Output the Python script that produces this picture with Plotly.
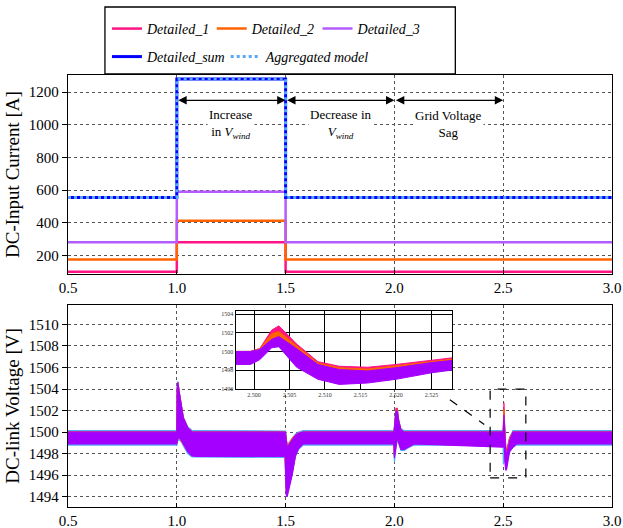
import plotly.graph_objects as go

# ---------------- data: DC input current (top) ----------------
T_I = [0.5, 1.0, 1.5, 3.0]
I_D1 = [100, 280, 100, 100]
I_D2 = [175, 412, 175, 175]
I_D3 = [280, 590, 280, 280]
I_SUM = [555, 1280, 555, 555]
I_AGG = [555, 1280, 555, 555]

# ---------------- data: DC-link voltage envelopes (bottom) ----------------
T_V = [0.5, 1.0, 1.002, 1.005, 1.01, 1.02, 1.03, 1.05, 1.07, 1.09,
       1.498, 1.5, 1.503, 1.507, 1.515, 1.53, 1.545, 1.56, 1.58,
       1.998, 2.0, 2.003, 2.008, 2.013, 2.02, 2.03, 2.045, 2.06, 2.09,
       2.4995, 2.5008, 2.5025, 2.5035, 2.506, 2.509, 2.512, 2.516, 2.52, 2.525, 2.53,
       2.545, 2.56, 3.0]

V_D3_HI = [1500.0, 1500.0, 1504.0, 1504.6, 1503.8, 1502.3, 1501.3, 1500.4, 1500.0, 1500.0,
           1500.0, 1499.8, 1499.0, 1498.6, 1498.8, 1499.3, 1499.7, 1499.9, 1500.0,
           1500.0, 1500.3, 1501.2, 1502.0, 1501.9, 1501.0, 1500.2, 1500.0, 1500.0, 1500.0,
           1500.0, 1500.2, 1501.3, 1501.6, 1500.3, 1498.6, 1498.05, 1497.9, 1498.25, 1498.8, 1499.2,
           1500.0, 1500.0, 1500.0]
V_D3_LO = [1498.9, 1498.9, 1499.2, 1499.4, 1499.5, 1499.3, 1498.9, 1498.2, 1497.8, 1497.75,
           1497.75, 1496.0, 1494.2, 1494.0, 1494.8, 1496.0, 1497.8, 1498.5, 1498.9,
           1498.9, 1497.6, 1497.8, 1498.8, 1499.5, 1499.0, 1498.4, 1498.4, 1498.6, 1498.9,
           1498.6, 1499.1, 1500.4, 1500.5, 1498.3, 1497.0, 1496.45, 1496.6, 1497.0, 1497.7, 1498.2,
           1498.6, 1498.9, 1498.9]

V_D2_HI = [1500.0, 1500.0, 1504.0, 1504.6, 1503.8, 1502.3, 1501.3, 1500.4, 1500.0, 1500.0,
           1500.0, 1499.8, 1499.1, 1498.7, 1498.9, 1499.4, 1499.7, 1499.9, 1500.0,
           1500.0, 1500.3, 1501.3, 1502.1, 1502.0, 1501.0, 1500.2, 1500.0, 1500.0, 1500.0,
           1500.0, 1500.3, 1501.9, 1502.15, 1500.6, 1498.75, 1498.25, 1498.1, 1498.45, 1498.95, 1499.35,
           1500.0, 1500.0, 1500.0]
V_D2_LO = [1499.0, 1499.0, 1499.3, 1499.5, 1499.5, 1499.3, 1498.9, 1498.3, 1497.9, 1497.8,
           1497.8, 1496.2, 1494.5, 1494.3, 1495.0, 1496.2, 1497.9, 1498.6, 1499.0,
           1499.0, 1497.8, 1498.0, 1498.9, 1499.5, 1499.1, 1498.5, 1498.5, 1498.7, 1499.0,
           1498.7, 1499.3, 1500.8, 1501.0, 1498.7, 1497.4, 1496.9, 1497.0, 1497.4, 1498.0, 1498.5,
           1498.7, 1499.0, 1499.0]

V_D1_HI = [1500.0, 1500.0, 1504.0, 1504.6, 1503.8, 1502.3, 1501.3, 1500.4, 1500.0, 1500.0,
           1500.0, 1499.8, 1499.1, 1498.7, 1498.9, 1499.4, 1499.7, 1499.9, 1500.0,
           1500.0, 1500.3, 1501.4, 1502.2, 1502.2, 1501.0, 1500.2, 1500.0, 1500.0, 1500.0,
           1500.0, 1500.3, 1502.3, 1502.75, 1500.8, 1498.9, 1498.4, 1498.3, 1498.6, 1499.1, 1499.5,
           1500.0, 1500.0, 1500.0]
V_D1_LO = [1499.0, 1499.0, 1499.3, 1499.5, 1499.5, 1499.3, 1498.9, 1498.3, 1497.9, 1497.8,
           1497.8, 1496.2, 1494.6, 1494.4, 1495.1, 1496.3, 1497.9, 1498.6, 1499.0,
           1499.0, 1497.9, 1498.1, 1499.0, 1499.6, 1499.1, 1498.6, 1498.6, 1498.7, 1499.0,
           1498.7, 1499.4, 1501.0, 1501.3, 1499.0, 1497.7, 1497.2, 1497.3, 1497.6, 1498.2, 1498.7,
           1498.8, 1499.0, 1499.0]

V_AGG_HI = [1500.15, 1500.15, 1504.5, 1504.7, 1503.9, 1502.4, 1501.4, 1500.5, 1500.15, 1500.15,
            1500.15, 1500.1, 1499.3, 1498.8, 1499.0, 1499.4, 1499.8, 1500.0, 1500.15,
            1500.15, 1500.4, 1501.3, 1502.2, 1502.1, 1501.1, 1500.3, 1500.15, 1500.15, 1500.15,
            1500.15, 1500.5, 1501.8, 1501.8, 1500.7, 1499.3, 1498.4, 1498.1, 1498.5, 1499.0, 1499.5,
            1500.15, 1500.15, 1500.15]
V_AGG_LO = [1498.8, 1498.8, 1499.0, 1499.2, 1499.3, 1499.1, 1498.7, 1498.0, 1497.7, 1497.65,
            1497.65, 1495.2, 1494.8, 1494.6, 1495.0, 1496.1, 1497.7, 1498.4, 1498.8,
            1498.8, 1497.2, 1497.3, 1498.6, 1499.3, 1498.9, 1498.3, 1498.3, 1498.5, 1498.8,
            1498.8, 1497.0, 1497.2, 1497.5, 1497.4, 1497.2, 1496.9, 1497.0, 1497.5, 1498.0, 1498.3,
            1498.6, 1498.8, 1498.8]

X_TICKS = [0.5, 1.0, 1.5, 2.0, 2.5, 3.0]
INSET_X_TICKS = [2.500, 2.505, 2.510, 2.515, 2.520, 2.525]
INSET_Y_TICKS = [1496, 1498, 1500, 1502, 1504]

NAMES = ["Detailed_1", "Detailed_2", "Detailed_3", "Detailed_sum", "Aggregated model"]
C_D1, C_D2, C_D3, C_SUM, C_AGG = "#FF1485", "#FF6400", "#A400FF", "#0000FF", "#55AAFF"

SERIF = "Liberation Serif, Times New Roman, serif"

fig = go.Figure()

# ---- top plot lines (each in its own one-item legend for exact placement) ----
top_series = [(I_D1, NAMES[0], dict(color=C_D1, width=2.5), "legend"),
              (I_D2, NAMES[1], dict(color=C_D2, width=2.5), "legend2"),
              (I_D3, NAMES[2], dict(color="#B45CFF", width=2.5), "legend3"),
              (I_SUM, NAMES[3], dict(color=C_SUM, width=3), "legend4"),
              (I_AGG, NAMES[4], dict(color=C_AGG, width=3, dash="dot"), "legend5")]
for ys, nm, ln, lg in top_series:
    fig.add_trace(go.Scatter(x=T_I, y=ys, name=nm, mode="lines", line=dict(shape="hv", **ln),
                             legend=lg, xaxis="x", yaxis="y"))


def band(t, hi, lo):
    return list(t) + list(t)[::-1], list(hi) + list(lo)[::-1]


# ---- bottom plot bands ----
for hi, lo, col, nm in [(V_AGG_HI, V_AGG_LO, C_AGG, NAMES[4]),
                        (V_D1_HI, V_D1_LO, C_D1, NAMES[0]),
                        (V_D2_HI, V_D2_LO, C_D2, NAMES[1]),
                        (V_D3_HI, V_D3_LO, C_D3, NAMES[2])]:
    bx, by = band(T_V, hi, lo)
    fig.add_trace(go.Scatter(x=bx, y=by, mode="lines", fill="toself", fillcolor=col,
                             line=dict(color=col, width=1.2), name=nm, showlegend=False,
                             xaxis="x2", yaxis="y2", hoverinfo="skip"))

# ---- inset bands ----
for hi, lo, col, nm in [(V_D1_HI, V_D1_LO, C_D1, NAMES[0]),
                        (V_D2_HI, V_D2_LO, C_D2, NAMES[1]),
                        (V_D3_HI, V_D3_LO, C_D3, NAMES[2])]:
    bx, by = band(T_V, hi, lo)
    fig.add_trace(go.Scatter(x=bx, y=by, mode="lines", fill="toself", fillcolor=col,
                             line=dict(color=col, width=1), name=nm, showlegend=False,
                             xaxis="x3", yaxis="y3", hoverinfo="skip"))

tickfont = dict(family=SERIF, size=15, color="black")
grid = dict(showgrid=True, gridcolor="#555", griddash="dot", gridwidth=1)
frame = dict(showline=True, linecolor="black", linewidth=1.3, mirror=True, zeroline=False,
             tickcolor="black", tickfont=tickfont)
yframe = dict(ticks="outside", ticklen=5, **frame)
xframe = dict(ticks="inside", ticklen=4, **frame)

legfont = dict(family=SERIF, size=14, style="italic", color="black")


def leg(x, y):
    return dict(orientation="h", x=x, xanchor="left", y=y, yanchor="middle",
                bgcolor="rgba(0,0,0,0)", borderwidth=0, font=legfont)


fig.update_layout(
    width=623, height=528,
    margin=dict(l=68, r=11, t=75, b=21, autoexpand=False),
    paper_bgcolor="white", plot_bgcolor="white",
    showlegend=True,
    font=dict(family=SERIF, color="black"),
    xaxis=dict(domain=[0, 1], anchor="y", range=[0.5, 3.0], tickvals=X_TICKS, tickformat=".1f", **grid, **xframe),
    yaxis=dict(domain=[0.539, 1.0], anchor="x", range=[85, 1305], tick0=200, dtick=200,
               title=dict(text="DC-Input Current [A]", font=dict(family=SERIF, size=19), standoff=4),
               **grid, **yframe),
    xaxis2=dict(domain=[0, 1], anchor="y2", range=[0.5, 3.0], tickvals=X_TICKS, tickformat=".1f", **grid, **xframe),
    yaxis2=dict(domain=[0, 0.4676], anchor="x2", range=[1493.05, 1511.8], tick0=1494, dtick=2,
                title=dict(text="DC-link Voltage [V]", font=dict(family=SERIF, size=19), standoff=4),
                **grid, **yframe),
    xaxis3=dict(domain=[0.308, 0.706], anchor="y3", range=[2.4974, 2.5279], tickvals=INSET_X_TICKS,
                tickformat=".3f", showgrid=True, gridcolor="black", gridwidth=1.2,
                showline=True, linecolor="black", linewidth=1.3, mirror=True, zeroline=False,
                ticks="", tickfont=dict(family=SERIF, size=6, color="#333")),
    yaxis3=dict(domain=[0.273, 0.4537], anchor="x3", range=[1495.95, 1504.35], tickvals=INSET_Y_TICKS,
                showgrid=True, gridcolor="black", gridwidth=1.2,
                showline=True, linecolor="black", linewidth=1.3, mirror=True, zeroline=False,
                ticks="", tickfont=dict(family=SERIF, size=6, color="#333")),
    legend=leg(0.0716, 1.1065),
    legend2=leg(0.2642, 1.1065),
    legend3=leg(0.4587, 1.1065),
    legend4=leg(0.0716, 1.0417),
    legend5=leg(0.2899, 1.0417),
)

# legend frame
fig.add_shape(type="rect", xref="paper", yref="paper", x0=0.0679, x1=0.712, y0=1.0023, y1=1.1574,
              line=dict(color="black", width=1.3), fillcolor="rgba(0,0,0,0)", layer="above")

# zoom box and connector on bottom plot
fig.add_shape(type="rect", xref="x2", yref="y2", x0=2.44, x1=2.604, y0=1495.75, y1=1504.0,
              line=dict(color="black", width=1.2, dash="dash"))
fig.add_shape(type="line", xref="x2", yref="y2", x0=2.255, y0=1503.0, x1=2.413, y1=1500.7,
              line=dict(color="black", width=1.2, dash="dash"))

# arrows and labels in top plot
for a, b in [(1.0, 1.5), (1.5, 2.0), (2.0, 2.5)]:
    fig.add_annotation(x=b, y=1150, ax=a, ay=1150, xref="x", yref="y", axref="x", ayref="y",
                       text="", showarrow=True, arrowside="end+start", arrowhead=2, startarrowhead=2,
                       arrowsize=1.4, startarrowsize=1.4, arrowwidth=1.2, arrowcolor="black",
                       standoff=0, startstandoff=0)

labels = [(1.25, "Increase<br>in <i>V<sub>wind</sub></i>"),
          (1.75, "Decrease in<br><i>V<sub>wind</sub></i>"),
          (2.25, "Grid Voltage<br>Sag")]
for xx, txt in labels:
    fig.add_annotation(x=xx, y=1005, xref="x", yref="y", text=txt, showarrow=False,
                       font=dict(family=SERIF, size=13, color="black"), align="center",
                       bgcolor="white")

fig.write_html("out.html", config={"displayModeBar": False},
               post_script="document.body.style.margin='0px';")
